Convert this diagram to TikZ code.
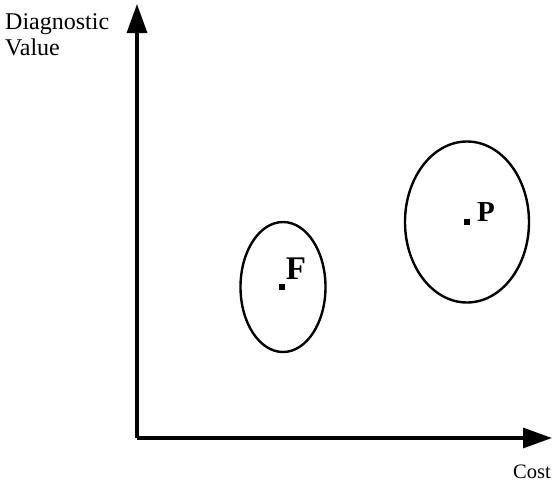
\documentclass[tikz,border=0pt]{standalone}
\usepackage{fontspec}
\setmainfont{Liberation Serif}
\usetikzlibrary{arrows.meta,shapes.geometric}
\tikzset{
  axis/.style={line width=3.2pt, -{Triangle[length=29pt,width=20pt]}},
  region/.style={draw, ellipse, line width=2.4pt, inner sep=0pt},
  pt/.style={fill, inner sep=0pt, minimum size=6pt},
  lbl/.style={font=\fontsize{24}{26}\selectfont, inner sep=0pt},
  ptlbl/.style={font=\fontsize{33}{35}\selectfont\bfseries, inner sep=0pt}
}
\begin{document}
\begin{tikzpicture}[x=1pt,y=-1pt]
\useasboundingbox (0,0) rectangle (554,483);
\coordinate (O) at (137,438);
\coordinate (Ytop) at (137,4);
\coordinate (Xend) at (552,438);
\draw[axis] (O) -- (Ytop);
\draw[axis] (O) -- (Xend);
\node[lbl, anchor=base west] (ylab1) at (5,29) {Diagnostic};
\node[lbl, anchor=base west] (ylab2) at (5,55) {Value};
\node[lbl, font=\fontsize{20.5}{22}\selectfont, anchor=base east] (xlab) at (551,478) {Cost};
\node[region, minimum width=85pt, minimum height=130pt] (eF) at (283,287) {};
\node[region, minimum width=124pt, minimum height=161pt] (eP) at (467,222) {};
\node[pt] (F) at (282,287) {};
\node[pt] (P) at (467,222) {};
\node[ptlbl, anchor=base] (Flab) at (296,279) {F};
\node[ptlbl, font=\fontsize{29}{31}\selectfont\bfseries, anchor=base] (Plab) at (486,221) {P};
\end{tikzpicture}
\end{document}
